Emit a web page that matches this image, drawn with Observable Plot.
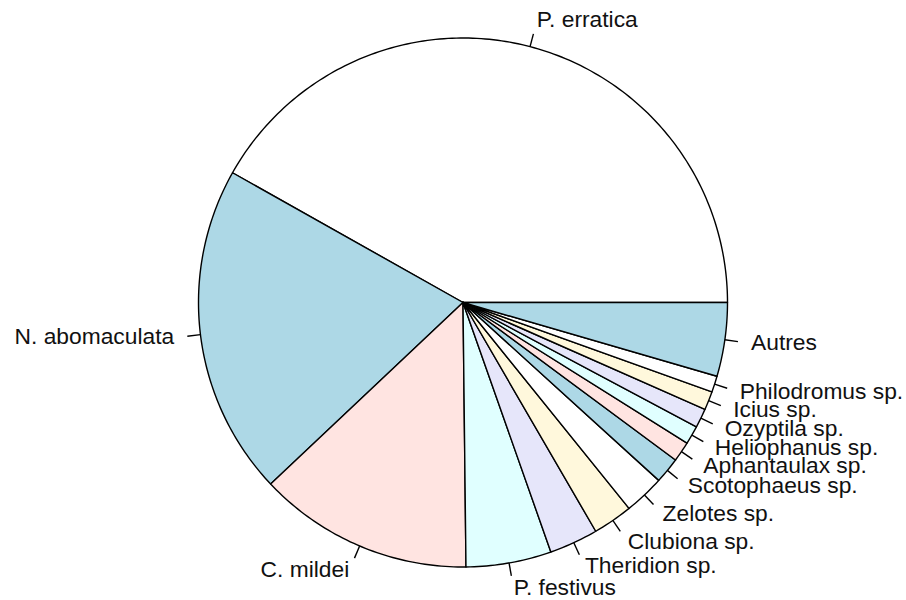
<!DOCTYPE html>
<html>
<head>
<meta charset="utf-8">
<script src="https://cdn.jsdelivr.net/npm/d3@7"></script>
<script src="https://cdn.jsdelivr.net/npm/@observablehq/plot@0.6"></script>
<style>
  html, body { margin: 0; padding: 0; background: #fff; }
  #chart svg { display: block; overflow: visible; }
</style>
</head>
<body>
<div id="chart"></div>
<script>
// Species (pie order, counter-clockwise from 3 o'clock, as in R's pie())
const species = [
  "P. erratica", "N. abomaculata", "C. mildei", "P. festivus",
  "Theridion sp.", "Clubiona sp.", "Zelotes sp.", "Scotophaeus sp.",
  "Aphantaulax sp.", "Heliophanus sp.", "Ozyptila sp.", "Icius sp.",
  "Philodromus sp.", "Autres"
];
// Share of individuals (%)
const shares = [41.84, 20.20, 13.14, 5.21, 2.98, 2.43, 2.46, 1.59, 1.23, 1.13, 1.17, 1.13, 0.99, 4.50];
// R's default pie palette, recycled
const palette = ["white", "lightblue", "mistyrose", "lightcyan", "lavender", "cornsilk"];

const total = d3.sum(shares);
let cum = 0;
const slices = species.map((name, i) => {
  const a0 = 2 * Math.PI * cum / total;
  cum += shares[i];
  const a1 = 2 * Math.PI * cum / total;
  const mid = (a0 + a1) / 2;
  return {name, a0, a1, mid, color: palette[i % palette.length], cx: Math.cos(mid), cy: Math.sin(mid)};
});

// polygon vertices (unit circle) for each slice
const polys = [];
for (const s of slices) {
  const n = Math.max(2, Math.ceil((s.a1 - s.a0) / (Math.PI / 200)));
  polys.push({name: s.name, color: s.color, x: 0, y: 0});
  for (let k = 0; k <= n; k++) {
    const t = s.a0 + (s.a1 - s.a0) * k / n;
    polys.push({name: s.name, color: s.color, x: Math.cos(t), y: Math.sin(t)});
  }
  polys.push({name: s.name, color: s.color, x: 0, y: 0});
}

const W = 906, H = 600, cxPix = 462.5, cyPix = 302, R = 264.5;
const font = "'Liberation Sans', Arial, Helvetica, sans-serif";

const chart = Plot.plot({
  width: W,
  height: H,
  margin: 0,
  style: {background: "white", fontFamily: font},
  x: {domain: [-cxPix / R, (W - cxPix) / R], axis: null},
  y: {domain: [-(H - cyPix) / R, cyPix / R], axis: null},
  color: {type: "identity"},
  marks: [
    Plot.line(polys, {x: "x", y: "y", z: "name", fill: "color", stroke: "black", strokeWidth: 1.4, strokeLinejoin: "round"}),
    Plot.link(slices, {x1: d => d.cx, y1: d => d.cy, x2: d => 1.05 * d.cx, y2: d => 1.05 * d.cy, stroke: "black", strokeWidth: 1.4}),
    Plot.text(slices.filter(d => d.cx >= 0), {x: d => 1.1 * d.cx, y: d => 1.1 * d.cy, text: "name", textAnchor: "start", fontSize: 22.8, dy: -1, fill: "#111", fontFamily: font}),
    Plot.text(slices.filter(d => d.cx < 0), {x: d => 1.1 * d.cx, y: d => 1.1 * d.cy, text: "name", textAnchor: "end", fontSize: 22.8, dy: -1, fill: "#111", fontFamily: font})
  ]
});
document.getElementById("chart").appendChild(chart);
</script>
</body>
</html>
